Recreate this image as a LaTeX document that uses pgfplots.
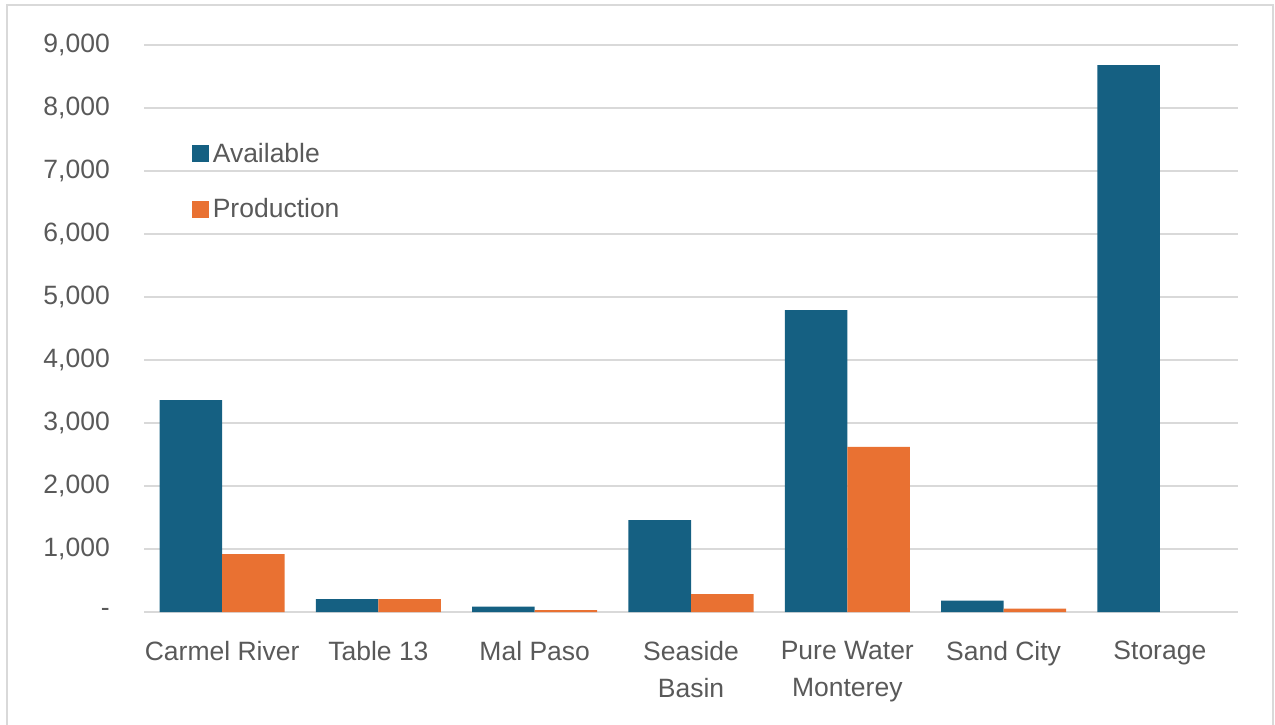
\documentclass[border=0pt]{standalone}
\usepackage{pgfplots}
\pgfplotsset{compat=1.18}
\usepackage{fontspec}
\setmainfont{Liberation Sans}
\definecolor{cblue}{HTML}{156082}
\definecolor{corange}{HTML}{E97132}
\definecolor{tgray}{HTML}{595959}
\definecolor{ggray}{HTML}{D9D9D9}
\begin{document}
\begin{tikzpicture}
\useasboundingbox (0pt,0pt) rectangle (765pt,434.4pt);
\draw[ggray,line width=1.5pt] (4.2pt,-12pt) -- (4.2pt,431.4pt) -- (763.8pt,431.4pt) -- (763.8pt,-12pt);
\pgfplotsset{/pgfplots/ybar legend/.style={/pgfplots/legend image code/.code={\fill[##1] (0pt,-5.1pt) rectangle (10.2pt,5.1pt);}}}
\begin{axis}[
  at={(86.4pt,67.2pt)}, anchor=south west,
  scale only axis, width=656.4pt, height=340.2pt,
  ybar, bar width=0.4,
  xmin=-0.5, xmax=6.5, ymin=0, ymax=9000,
  xtick={0,1,2,3,4,5,6},
  xticklabels={Carmel River, Table 13, Mal Paso, {Seaside\\Basin}, {Pure Water\\Monterey}, Sand City, Storage},
  ytick={0,1000,2000,3000,4000,5000,6000,7000,8000,9000},
  yticklabels={-, {1,000}, {2,000}, {3,000}, {4,000}, {5,000}, {6,000}, {7,000}, {8,000}, {9,000}},
  axis x line*=bottom, axis y line*=left,
  x axis line style={ggray, line width=1.2pt},
  y axis line style={draw=none},
  tick style={draw=none}, major tick length=0pt,
  ymajorgrids, grid style={ggray, line width=1.2pt},
  tick label style={font=\fontsize{15.9}{22.2}\selectfont, text=tgray},
  xticklabel style={align=center, anchor=north, yshift=-13.8pt},
  yticklabel style={anchor=east, xshift=-17pt},
  legend style={draw=none, fill=none, at={(0.044,0.834)}, anchor=north west,
    font=\fontsize{15.9}{18}\selectfont, text=tgray, row sep=16.4pt,
    inner sep=0pt, legend cell align=left,
    /tikz/every even column/.append style={column sep=7.5pt}},
]
\addplot[fill=cblue, draw=none, bar shift=-0.2] coordinates {
  (0,3365) (1,205) (2,85) (3,1460) (4,4790) (5,180) (6,8680)};
\addlegendentry{Available}
\addplot[fill=corange, draw=none, bar shift=0.2] coordinates {
  (0,920) (1,205) (2,30) (3,285) (4,2620) (5,55)};
\addlegendentry{Production}
\end{axis}
\end{tikzpicture}
\end{document}
